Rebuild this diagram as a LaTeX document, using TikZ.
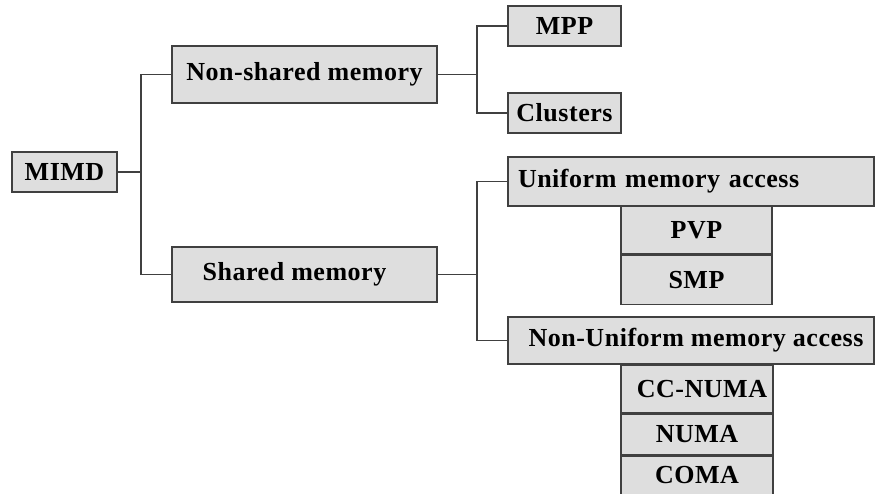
\documentclass[tikz,border=0pt]{standalone}
\usepackage{fontspec}
\setmainfont{Liberation Serif}[LetterSpace=2]
\usetikzlibrary{positioning}

\begin{document}
\begin{tikzpicture}[x=1pt,y=-1pt,line width=1.5pt,
        box/.style={draw=black!75,fill=black!13,inner sep=0pt,
          font=\fontsize{26}{30}\selectfont\bfseries},
        wire/.style={draw=black!75}]

  \useasboundingbox (0,0) rectangle (875,493);

  \node[box,minimum width=105pt,minimum height=40pt] (MIMD) at (64.5,172) {MIMD};
  \node[box,minimum width=265pt,minimum height=57pt] (Non-shared) at (304.5,74.5) {Non-shared memory};
  \node[box,minimum width=265pt,minimum height=55pt] (Shared) at (304.5,274.5) {Shared memory\kern20pt};

  \node[box,minimum width=113pt,minimum height=40pt] (MPP) at (564.5,26) {MPP};
  \node[box,minimum width=113pt,minimum height=40pt] (Clusters) at (564.5,113) {Clusters};

  \node[box,minimum width=366pt,minimum height=49pt,text width=346pt,align=left] (UMA) at (691,181.5) {Uniform memory access};
  \node[box,minimum width=151pt,minimum height=48pt] (PVP) at (696.5,230) {PVP};
  \node[box,minimum width=151pt,minimum height=49pt] (SMP) [below=0pt of PVP] {SMP};

  \node[box,minimum width=366pt,minimum height=47pt] (NUMA-access) at (691,340.5) {\hspace{10pt}Non-Uniform memory access};
  \node[box,minimum width=152pt,minimum height=48pt] (CC-NUMA) at (697,389) {\hspace{10pt}CC-NUMA};
  \node[box,minimum width=152pt,minimum height=40pt] (NUMA) [below=0pt of CC-NUMA] {NUMA};
  \node[box,minimum width=152pt,minimum height=39pt] (COMA) [below=0pt of NUMA] {COMA};

  \path[wire] (MIMD.east) -- ++(23,0) coordinate (Fork MIMD)
        (Fork MIMD) |- (Non-shared.west)
        (Fork MIMD) |- (Shared.west)

        (Non-shared.east) -- ++(39,0) coordinate (Fork Non-shared)
        (Fork Non-shared) |- (MPP.west)
        (Fork Non-shared) |- (Clusters.west)

        (Shared.east) -- ++(39,0) coordinate (Fork Shared)
        (Fork Shared) |- (UMA.west)
        (Fork Shared) |- (NUMA-access.west);
\end{tikzpicture}
\end{document}
